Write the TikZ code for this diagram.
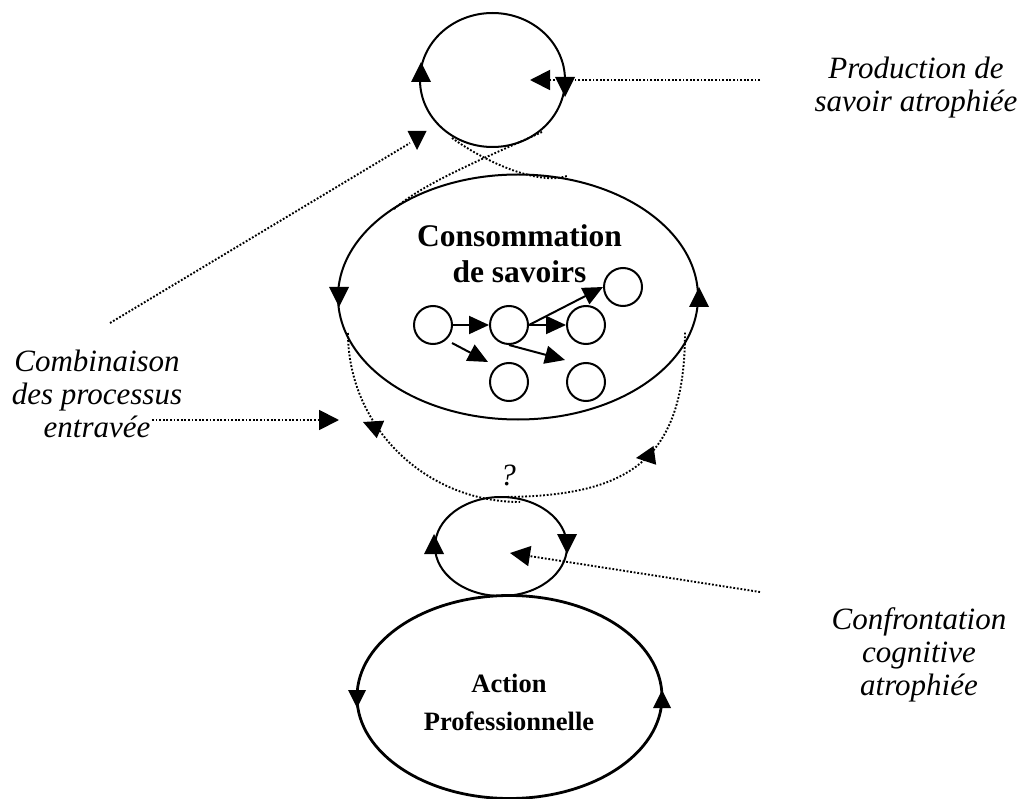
\documentclass[tikz,border=0pt]{standalone}
\usepackage{fontspec}
\setmainfont{Liberation Serif}
\usetikzlibrary{arrows.meta,shapes.geometric,calc}

\tikzset{
  loopline/.style={draw, line width=2pt, inner sep=0pt},
  thickloop/.style={draw, line width=2.8pt, inner sep=0pt},
  dotline/.style={line width=1.9pt, dash pattern=on 1.8pt off 1.8pt},
  bigtip/.style={-{Triangle[length=20pt,width=20pt]}},
  smalltip/.style={line width=2pt, -{Triangle[length=20pt,width=18pt]}},
  pics/ahead/.style={code={\fill (0,0) -- (-20,-10) -- (-20,10) -- cycle;}},
  caption/.style={font=\itshape\fontsize{31}{33}\selectfont, align=center, inner sep=0pt, anchor=base},
  title/.style={font=\bfseries\fontsize{31.5}{36}\selectfont, align=center, inner sep=0pt, anchor=base},
  subtitle/.style={font=\bfseries\fontsize{26.5}{38}\selectfont, align=center, inner sep=0pt, anchor=base},
  ball/.style={loopline, circle, minimum size=38pt}
}

\begin{document}
\begin{tikzpicture}[x=1pt,y=-1pt]
\useasboundingbox (0,0) rectangle (1025,799);

% the three loops and the action loop
\node[loopline, ellipse, minimum width=145pt, minimum height=134pt] (prod) at (492.5,80) {};
\node[loopline, ellipse, minimum width=360pt, minimum height=245pt] (cons) at (518,297) {};
\node[loopline, ellipse, minimum width=132pt, minimum height=99pt] (conf) at (501,546.5) {};
\node[thickloop, ellipse, minimum width=305pt, minimum height=203pt] (act) at (509.5,697) {};

% direction marks on the loops
\pic[rotate=90] at (421,62) {ahead};
\pic[rotate=-90] at (565,97) {ahead};
\pic[rotate=-90] at (339,307) {ahead};
\pic[rotate=90] at (699,287) {ahead};
\pic[rotate=90] at (434,534) {ahead};
\pic[rotate=-90] at (567,554) {ahead};
\pic[rotate=-90, scale=0.9] at (357,708) {ahead};
\pic[rotate=90, scale=0.9] at (662,690) {ahead};

% loop texts (anchored on the baseline of their last line)
\node[title] (constext) at (519.5,283) {Consommation\\de savoirs};
\node[subtitle] (acttext) at (509,730) {Action\\Professionnelle};

% small knowledge units
\node[ball] (k1) at (433,325) {};
\node[ball] (k2) at (509,325) {};
\node[ball] (k3) at (586,325) {};
\node[ball] (k4) at (623,287) {};
\node[ball] (k5) at (509,382) {};
\node[ball] (k6) at (586,382) {};
\draw[smalltip] (k1) -- (k2);
\draw[smalltip] (k2) -- (k3);
\draw[smalltip] (k2.east) -- (k4.west);
\draw[smalltip] ([shift={(19,18)}]k1.center) -- ([shift={(-21,-20)}]k5.center);
\draw[smalltip] (k2.south) -- ([shift={(-21,-22)}]k6.center);

% crossing links between production and consumption
\coordinate (a1) at (452,138);
\coordinate (a2) at (567,176);
\coordinate (b1) at (542,132);
\coordinate (b2) at (393,210);
\draw[dotline] (a1) .. controls (490,165) and (540,185) .. (a2);
\draw[dotline] (b1) .. controls (480,160) and (420,185) .. (b2);

% links between consumption and confrontation
\coordinate (l1) at (348,333);
\coordinate (r1) at (500,497);
\coordinate (r2) at (685,332);
\draw[dotline] (l1) arc[start angle=180, end angle=90, x radius=172, y radius=169];
\draw[dotline] (r1) .. controls (630,497) and (685,460) .. (r2);
\pic[rotate=157, scale=0.95] at (363,422) {ahead};
\pic[rotate=188, scale=0.95] at (636,458) {ahead};
\node[caption] (qmark) at (508,485) {?};

% side labels and their pointers
\node[caption] (lprod) at (916,112) {Production de\\savoir atrophiée};
\node[caption] (lcomb) at (97,437) {Combinaison\\des processus\\entravée};
\node[caption] (lconf) at (919,695) {Confrontation\\cognitive\\atrophiée};

\coordinate (pfrom) at (760,80);
\coordinate (pto) at (530,80);
\draw[dotline, bigtip] (pfrom) -- (pto);

\coordinate (cfrom) at (152,420);
\coordinate (cto) at (339,420);
\draw[dotline, bigtip] (cfrom) -- (cto);

\coordinate (gfrom) at (110,323);
\coordinate (gto) at (410,143);
\draw[dotline] (gfrom) -- (gto);
\pic[rotate=-90, scale=0.95] at (417,150) {ahead};

\coordinate (ffrom) at (760,592);
\coordinate (fto) at (510,553);
\draw[dotline, bigtip] (ffrom) -- (fto);
\end{tikzpicture}
\end{document}
